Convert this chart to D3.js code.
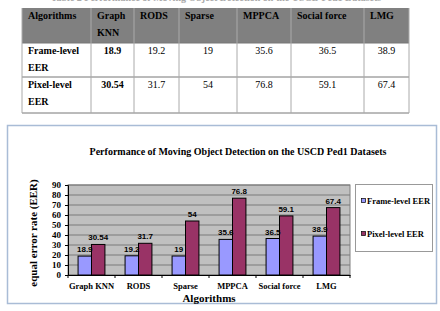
<!DOCTYPE html>
<meta charset="utf-8">
<style>
body { margin: 0; background: #fff; }
svg { display: block; }
.tbl text { font-family: "Liberation Serif", serif; font-size: 10px; fill: #000; }
.chart text { font-family: "Liberation Serif", serif; font-weight: bold; fill: #000; }
.val text { font-family: "Liberation Sans", Arial, sans-serif; }
</style>
<svg width="440" height="311"></svg>
<script src="https://d3js.org/d3.v7.min.js"></script>
<script>

// data
var caption = "Table 2 Performance of Moving Object Detection on the USCD Ped1 Datasets";
var algorithms = ["Graph KNN", "RODS", "Sparse", "MPPCA", "Social force", "LMG"];
var seriesNames = ["Frame-level EER", "Pixel-level EER"];
var frameEER = [18.9, 19.2, 19, 35.6, 36.5, 38.9];
var pixelEER = [30.54, 31.7, 54, 76.8, 59.1, 67.4];
var yTicks = [0, 10, 20, 30, 40, 50, 60, 70, 80, 90];
var chartTitle = "Performance of Moving Object Detection on the USCD Ped1 Datasets";
var yTitle = "equal error rate (EER)";
var xTitle = "Algorithms";

var svg = d3.select("svg");

// ---- table ----
var tbl = svg.append("g").attr("class", "tbl");

// caption is mostly cut off by the top edge in the reference
tbl.append("text")
    .attr("x", 216).attr("y", 1)
    .attr("text-anchor", "middle")
    .style("fill", "#aaa")
    .style("font-weight", "bold")
    .text(caption);

var colEdges = [22, 91, 134, 179, 237, 291, 364, 409];
var rowEdges = [8, 43, 77, 113];
var rows = [["Frame-level EER"].concat(frameEER), ["Pixel-level EER"].concat(pixelEER)];

tbl.append("rect")
    .attr("x", colEdges[0]).attr("y", rowEdges[0])
    .attr("width", colEdges[7] - colEdges[0]).attr("height", rowEdges[1] - rowEdges[0])
    .attr("fill", "#808080");

// simple word wrap
function wrapText(sel, txt, maxW) {
  var words = String(txt).split(" "), line = [];
  var t = sel.append("tspan").attr("x", sel.attr("x"));
  words.forEach(function(w) {
    line.push(w);
    t.text(line.join(" "));
    if (t.node().getComputedTextLength() > maxW && line.length > 1) {
      line.pop();
      t.text(line.join(" "));
      line = [w];
      t = sel.append("tspan").attr("x", sel.attr("x")).attr("dy", 17).text(w);
    }
  });
}

var header = ["Algorithms"].concat(algorithms);
header.forEach(function(h, i) {
  var t = tbl.append("text")
      .attr("x", colEdges[i] + 6).attr("y", 19)
      .style("font-weight", "bold");
  wrapText(t, h, colEdges[i + 1] - colEdges[i] - 10);
});

rows.forEach(function(r, ri) {
  var y = rowEdges[ri + 1] + 11;
  r.forEach(function(v, ci) {
    var t = tbl.append("text").attr("y", y);
    if (ci === 0) {
      t.attr("x", colEdges[0] + 6).style("font-weight", "bold");
      wrapText(t, v, colEdges[1] - colEdges[0] - 16);
    } else {
      t.attr("x", (colEdges[ci] + colEdges[ci + 1]) / 2)
        .attr("text-anchor", "middle")
        .style("font-weight", ci === 1 ? "bold" : "normal")
        .text(String(v));
    }
  });
});

rowEdges.slice(1).forEach(function(y) {
  tbl.append("line").attr("x1", colEdges[0]).attr("x2", colEdges[7])
      .attr("y1", y).attr("y2", y).attr("stroke", "#777").attr("stroke-width", 1);
});
colEdges.forEach(function(x) {
  tbl.append("line").attr("x1", x).attr("x2", x)
      .attr("y1", rowEdges[0]).attr("y2", rowEdges[3])
      .attr("stroke", "#aaa").attr("stroke-width", 1);
});

// ---- chart ----
var ch = svg.append("g").attr("class", "chart");

ch.append("rect")
    .attr("x", 7.5).attr("y", 125.5).attr("width", 429).attr("height", 178)
    .attr("fill", "#fff").attr("stroke", "#a9bcd6").attr("stroke-width", 1.5);

ch.append("text")
    .attr("x", 238).attr("y", 155)
    .attr("text-anchor", "middle")
    .style("font-size", "10px")
    .text(chartTitle);

var plot = { left: 68, right: 350, top: 185, bottom: 275 };

var x0 = d3.scaleBand().domain(algorithms).range([plot.left, plot.right]).paddingInner(0);
var x1 = d3.scaleBand().domain(seriesNames).range([0, x0.bandwidth()]).paddingOuter(0.75).paddingInner(0);
var y = d3.scaleLinear().domain([0, 90]).range([plot.bottom, plot.top]);
var color = d3.scaleOrdinal().domain(seriesNames).range(["#9999ff", "#993366"]);

ch.append("rect")
    .attr("x", plot.left).attr("y", plot.top)
    .attr("width", plot.right - plot.left).attr("height", plot.bottom - plot.top)
    .attr("fill", "#c0c0c0").attr("stroke", "#808080");

// grid
ch.append("g").selectAll("line").data(yTicks).join("line")
    .attr("x1", plot.left).attr("x2", plot.right)
    .attr("y1", function(d) { return y(d); }).attr("y2", function(d) { return y(d); })
    .attr("stroke", "#7a7a7a").attr("stroke-width", 1);

// y axis
var yAxis = ch.append("g")
    .attr("transform", "translate(" + plot.left + ",0)")
    .call(d3.axisLeft(y).tickValues(yTicks).tickSize(3).tickPadding(4));
yAxis.select(".domain").attr("stroke", "#000");
yAxis.selectAll(".tick line").attr("stroke", "#000");
yAxis.selectAll("text")
    .style("font-family", "'Liberation Serif', serif")
    .style("font-weight", "bold")
    .style("font-size", "9px");

// x axis
var xAxis = ch.append("g")
    .attr("transform", "translate(0," + plot.bottom + ")")
    .call(d3.axisBottom(x0).tickSize(0).tickPadding(8));
xAxis.select(".domain").attr("stroke", "#000");
xAxis.selectAll("text")
    .style("font-family", "'Liberation Serif', serif")
    .style("font-weight", "bold")
    .style("font-size", "8.5px");
ch.append("g").selectAll("line").data(d3.range(algorithms.length + 1)).join("line")
    .attr("x1", function(i) { return plot.left + i * x0.step(); })
    .attr("x2", function(i) { return plot.left + i * x0.step(); })
    .attr("y1", plot.bottom).attr("y2", plot.bottom + 3)
    .attr("stroke", "#000");

// bars
var table = algorithms.map(function(a, i) {
  return { name: a, values: [
    { key: seriesNames[0], value: frameEER[i] },
    { key: seriesNames[1], value: pixelEER[i] }
  ] };
});

var grp = ch.append("g").selectAll("g").data(table).join("g")
    .attr("transform", function(d) { return "translate(" + x0(d.name) + ",0)"; });

grp.selectAll("rect").data(function(d) { return d.values; }).join("rect")
    .attr("x", function(d) { return x1(d.key); })
    .attr("y", function(d) { return y(d.value); })
    .attr("width", x1.bandwidth())
    .attr("height", function(d) { return y(0) - y(d.value); })
    .attr("fill", function(d) { return color(d.key); })
    .attr("stroke", "#000").attr("stroke-width", 1);

grp.append("g").attr("class", "val").selectAll("text").data(function(d) { return d.values; }).join("text")
    .attr("x", function(d) { return x1(d.key) + x1.bandwidth() / 2; })
    .attr("y", function(d) { return y(d.value) - 4; })
    .attr("text-anchor", "middle")
    .style("font-size", "8px")
    .text(function(d) { return String(d.value); });

// axis titles
ch.append("text")
    .attr("transform", "translate(37," + 233 + ") rotate(-90)")
    .attr("text-anchor", "middle")
    .style("font-size", "11px")
    .text(yTitle);

ch.append("text")
    .attr("x", (plot.left + plot.right) / 2).attr("y", 302)
    .attr("text-anchor", "middle")
    .style("font-size", "11px")
    .text(xTitle);

// legend
var lg = ch.append("g");
lg.append("rect")
    .attr("x", 355.5).attr("y", 184.5).attr("width", 77).attr("height", 67)
    .attr("fill", "#fff").attr("stroke", "#999");
seriesNames.forEach(function(s, i) {
  var cy = 201 + i * 33;
  lg.append("rect")
      .attr("x", 361.5).attr("y", cy - 2.5).attr("width", 4).attr("height", 4)
      .attr("fill", color(s)).attr("stroke", "#000").attr("stroke-width", 0.7);
  lg.append("text")
      .attr("x", 367).attr("y", cy + 3)
      .style("font-size", "8.5px")
      .text(s);
});

</script>
